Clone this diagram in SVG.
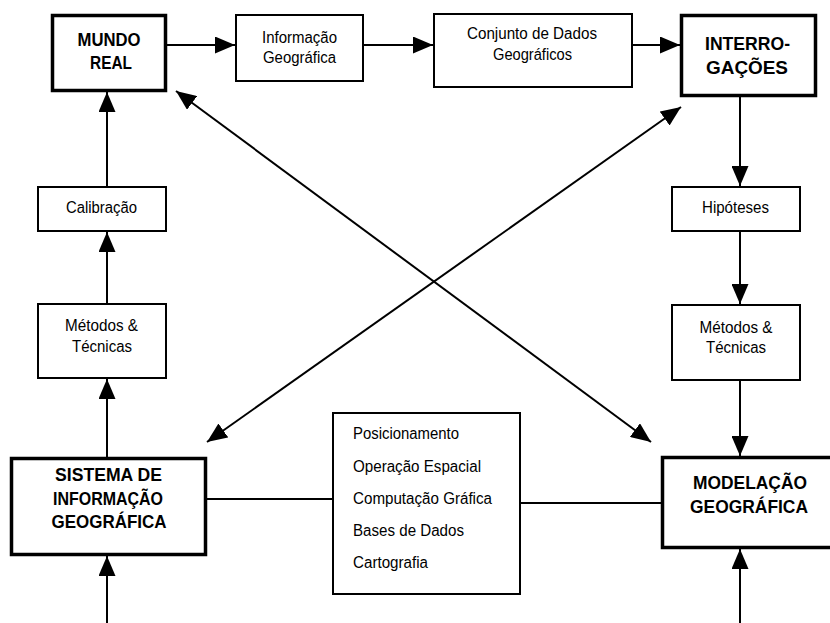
<svg xmlns="http://www.w3.org/2000/svg" width="830" height="623" viewBox="0 0 830 623">
<style>
.thin{fill:#fff;stroke:#000;stroke-width:2}
.thick{fill:#fff;stroke:#000;stroke-width:3.5}
.b{font-family:"Liberation Sans",Arial,sans-serif;font-weight:bold;font-size:19px;text-anchor:middle;fill:#000}
.r{font-family:"Liberation Sans",Arial,sans-serif;font-size:16px;text-anchor:middle;fill:#000}
.l{font-family:"Liberation Sans",Arial,sans-serif;font-size:16px;fill:#000}
.c{fill:none;stroke:#000;stroke-width:2}
.a{marker-end:url(#ah)}
.d{marker-end:url(#ah);marker-start:url(#ah)}
</style>
<defs>
<marker id="ah" markerUnits="userSpaceOnUse" markerWidth="20" markerHeight="17" refX="20" refY="8.5" orient="auto-start-reverse" viewBox="0 0 20 17">
<path d="M0,0 L20,8.5 L0,17 z" fill="#000"/>
</marker>
</defs>
<rect width="830" height="623" fill="#fff"/>
<g id="connectors">
<line class="c a" x1="167" y1="45" x2="235" y2="45"/>
<line class="c a" x1="364" y1="45" x2="433" y2="45"/>
<line class="c a" x1="633" y1="45" x2="680" y2="45"/>
<line class="c a" x1="740" y1="97" x2="740" y2="186"/>
<line class="c a" x1="740" y1="232" x2="740" y2="304"/>
<line class="c a" x1="740" y1="381" x2="740" y2="456"/>
<line class="c a" x1="740" y1="623" x2="740" y2="549"/>
<line class="c a" x1="107" y1="623" x2="107" y2="556"/>
<line class="c a" x1="107" y1="457" x2="107" y2="379"/>
<line class="c a" x1="107" y1="303" x2="107" y2="232"/>
<line class="c a" x1="107" y1="186" x2="107" y2="92"/>
<line class="c" x1="207" y1="499" x2="332" y2="499"/>
<line class="c" x1="521" y1="503" x2="661" y2="503"/>
<line class="c d" x1="176" y1="91" x2="651" y2="442"/>
<line class="c d" x1="207" y1="442" x2="681" y2="107"/>
</g>
<g id="mundo-real">
<rect class="thick" x="52.5" y="15.5" width="113" height="75"/>
<text class="b" x="109" y="46" textLength="63" lengthAdjust="spacingAndGlyphs">MUNDO</text>
<text class="b" x="111" y="69" textLength="42" lengthAdjust="spacingAndGlyphs">REAL</text>
</g>
<g id="informacao-geografica">
<rect class="thin" x="236" y="15" width="127" height="66"/>
<text class="r" x="299.5" y="43" textLength="75" lengthAdjust="spacingAndGlyphs">Informação</text>
<text class="r" x="299.5" y="63" textLength="73" lengthAdjust="spacingAndGlyphs">Geográfica</text>
</g>
<g id="conjunto-dados">
<rect class="thin" x="434" y="14" width="198" height="73"/>
<text class="r" x="532" y="39" textLength="130" lengthAdjust="spacingAndGlyphs">Conjunto de Dados</text>
<text class="r" x="532.5" y="60" textLength="79" lengthAdjust="spacingAndGlyphs">Geográficos</text>
</g>
<g id="interrogacoes">
<rect class="thick" x="681.5" y="15.5" width="134" height="80"/>
<text class="b" x="747.5" y="50" textLength="85" lengthAdjust="spacingAndGlyphs">INTERRO-</text>
<text class="b" x="747" y="74" textLength="82" lengthAdjust="spacingAndGlyphs">GAÇÕES</text>
</g>
<g id="calibracao">
<rect class="thin" x="38" y="187" width="128" height="44"/>
<text class="r" x="101.5" y="213" textLength="71" lengthAdjust="spacingAndGlyphs">Calibração</text>
</g>
<g id="metodos-esq">
<rect class="thin" x="38" y="304" width="128" height="74"/>
<text class="r" x="101.5" y="331" textLength="73" lengthAdjust="spacingAndGlyphs">Métodos &amp;</text>
<text class="r" x="102" y="352" textLength="60" lengthAdjust="spacingAndGlyphs">Técnicas</text>
</g>
<g id="hipoteses">
<rect class="thin" x="672" y="187" width="128" height="44"/>
<text class="r" x="735.5" y="213" textLength="67" lengthAdjust="spacingAndGlyphs">Hipóteses</text>
</g>
<g id="metodos-dir">
<rect class="thin" x="672" y="305" width="128" height="75"/>
<text class="r" x="736" y="333" textLength="73" lengthAdjust="spacingAndGlyphs">Métodos &amp;</text>
<text class="r" x="736" y="353" textLength="60" lengthAdjust="spacingAndGlyphs">Técnicas</text>
</g>
<g id="sig">
<rect class="thick" x="11.5" y="458.5" width="194" height="96"/>
<text class="b" x="108.5" y="481" textLength="107" lengthAdjust="spacingAndGlyphs">SISTEMA DE</text>
<text class="b" x="108" y="505" textLength="110" lengthAdjust="spacingAndGlyphs">INFORMAÇÃO</text>
<text class="b" x="109" y="528" textLength="115" lengthAdjust="spacingAndGlyphs">GEOGRÁFICA</text>
</g>
<g id="tecnologias">
<rect class="thin" x="333" y="413" width="187" height="181"/>
<text class="l" x="353" y="439" textLength="106" lengthAdjust="spacingAndGlyphs">Posicionamento</text>
<text class="l" x="353" y="471.5" textLength="128" lengthAdjust="spacingAndGlyphs">Operação Espacial</text>
<text class="l" x="353" y="504" textLength="139" lengthAdjust="spacingAndGlyphs">Computação Gráfica</text>
<text class="l" x="353" y="536" textLength="111" lengthAdjust="spacingAndGlyphs">Bases de Dados</text>
<text class="l" x="353" y="568" textLength="75" lengthAdjust="spacingAndGlyphs">Cartografia</text>
</g>
<g id="modelacao">
<rect class="thick" x="662.5" y="457.5" width="180" height="90"/>
<text class="b" x="750" y="489" textLength="114" lengthAdjust="spacingAndGlyphs">MODELAÇÃO</text>
<text class="b" x="749" y="513" textLength="118" lengthAdjust="spacingAndGlyphs">GEOGRÁFICA</text>
</g>
</svg>
